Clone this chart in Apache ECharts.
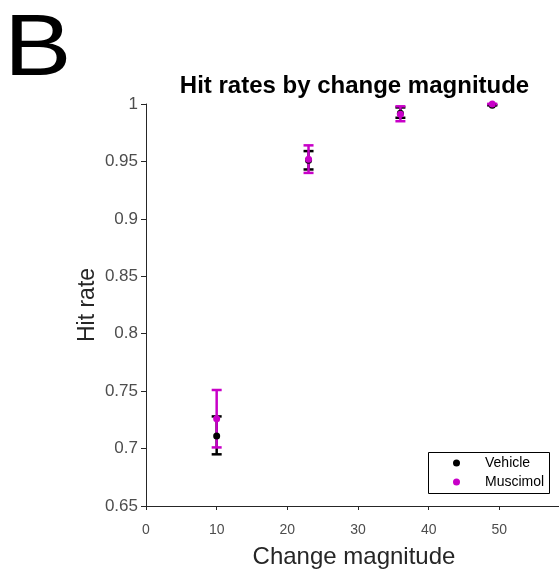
<!DOCTYPE html>
<html>
<head>
<meta charset="utf-8">
<script src="https://cdn.jsdelivr.net/npm/echarts@6/dist/echarts.min.js"></script>
<style>html,body{margin:0;padding:0;background:#fff;overflow:hidden;}#c{width:559px;height:575px;}</style>
</head>
<body>
<div id="c"></div>
<script>
const magnitudes = [10, 23, 36, 49];
const vehicleMean = [0.711, 0.951, 0.992, 0.999];
const vehicleLow  = [0.695, 0.943, 0.988, 0.999];
const vehicleHigh = [0.728, 0.959, 0.997, 0.999];
const muscimolMean = [0.726, 0.952, 0.991, 1.0];
const muscimolLow  = [0.701, 0.940, 0.985, 1.0];
const muscimolHigh = [0.751, 0.964, 0.998, 1.0];
const xTicks = [0, 10, 20, 30, 40, 50, 60];
const yTicks = [0.65, 0.7, 0.75, 0.8, 0.85, 0.9, 0.95, 1];

const VCOL = '#000000';
const MCOL = '#c800c8';
const FONT = 'Liberation Sans, Arial, sans-serif';

function errData(low, high) {
  return magnitudes.map((x, i) => [x, low[i], high[i]]);
}
function errSeries(name, low, high, color) {
  return {
    type: 'custom', name: name + ' err', z: 3,
    data: errData(low, high),
    encode: { x: 0, y: [1, 2] },
    renderItem: function (params, api) {
      const x = api.value(0);
      const lo = api.coord([x, api.value(1)]);
      const hi = api.coord([x, api.value(2)]);
      const w = 5;
      const style = { stroke: color, lineWidth: 2.5, fill: 'none' };
      return {
        type: 'group',
        children: [
          { type: 'line', shape: { x1: lo[0], y1: lo[1], x2: hi[0], y2: hi[1] }, style: style },
          { type: 'line', shape: { x1: lo[0] - w, y1: lo[1], x2: lo[0] + w, y2: lo[1] }, style: style },
          { type: 'line', shape: { x1: hi[0] - w, y1: hi[1], x2: hi[0] + w, y2: hi[1] }, style: style }
        ]
      };
    }
  };
}

const chart = echarts.init(document.getElementById('c'), null, { renderer: 'canvas' });
chart.setOption({
  backgroundColor: '#ffffff',
  animation: false,
  textStyle: { fontFamily: FONT },
  title: [
    { text: 'Hit rates by change magnitude', left: 349.5, top: 69, textAlign: 'center',
      textStyle: { fontFamily: FONT, fontSize: 24, fontWeight: 'bold', color: '#000' } }
  ],
  graphic: [
    { type: 'text', left: 4, top: 7, scaleX: 1.15,
      style: { text: 'B', font: '88px Liberation Sans, Arial, sans-serif', fill: '#000' } },
    { type: 'rect', left: 428, top: 452, z: 10,
      shape: { x: 0, y: 0, width: 121, height: 41 },
      style: { fill: '#fff', stroke: '#000', lineWidth: 1 } }
  ],
  grid: { left: 146, top: 104, width: 424, bottom: 69, containLabel: false, outerBoundsMode: 'none' },
  legend: {
    orient: 'vertical', left: 453, top: 456, z: 20,
    data: [{ name: 'Vehicle', icon: 'circle' }, { name: 'Muscimol', icon: 'circle' }],
    itemWidth: 7, itemHeight: 7, itemGap: 5, padding: 0,
    textStyle: { fontFamily: FONT, fontSize: 14, color: '#000', padding: [0, 0, 0, 20] }
  },
  xAxis: {
    type: 'value', min: 0, max: 60, interval: 10,
    name: 'Change magnitude', nameLocation: 'middle', nameGap: 39,
    nameTextStyle: { fontFamily: FONT, fontSize: 24, color: '#262626', padding: [0, 8, 0, 0] },
    axisLine: { show: true, lineStyle: { color: '#262626', width: 1 } },
    axisTick: { show: true, inside: false, length: 4, lineStyle: { color: '#262626' } },
    axisLabel: { fontFamily: FONT, fontSize: 14, color: '#4d4d4d', margin: 17 },
    splitLine: { show: false }
  },
  yAxis: {
    type: 'value', min: 0.65, max: 1, interval: 0.05,
    name: 'Hit rate', nameLocation: 'middle', nameGap: 47, nameMoveOverlap: false,
    nameTextStyle: { fontFamily: FONT, fontSize: 23, color: '#262626' },
    axisLine: { show: true, lineStyle: { color: '#262626', width: 1 } },
    axisTick: { show: true, inside: false, length: 5, lineStyle: { color: '#262626' } },
    axisLabel: { fontFamily: FONT, fontSize: 17, color: '#4d4d4d', margin: 8,
      formatter: function (v) { return String(parseFloat(v.toFixed(2))); } },
    splitLine: { show: false }
  },
  series: [
    errSeries('Vehicle', vehicleLow, vehicleHigh, VCOL),
    { type: 'scatter', name: 'Vehicle', symbol: 'circle', symbolSize: 7, z: 4,
      itemStyle: { color: VCOL, opacity: 1 },
      data: magnitudes.map((x, i) => [x, vehicleMean[i]]) },
    errSeries('Muscimol', muscimolLow, muscimolHigh, MCOL),
    { type: 'scatter', name: 'Muscimol', symbol: 'circle', symbolSize: 7, z: 6,
      itemStyle: { color: MCOL, opacity: 1 },
      data: magnitudes.map((x, i) => [x, muscimolMean[i]]) }
  ]
});
</script>
</body>
</html>
